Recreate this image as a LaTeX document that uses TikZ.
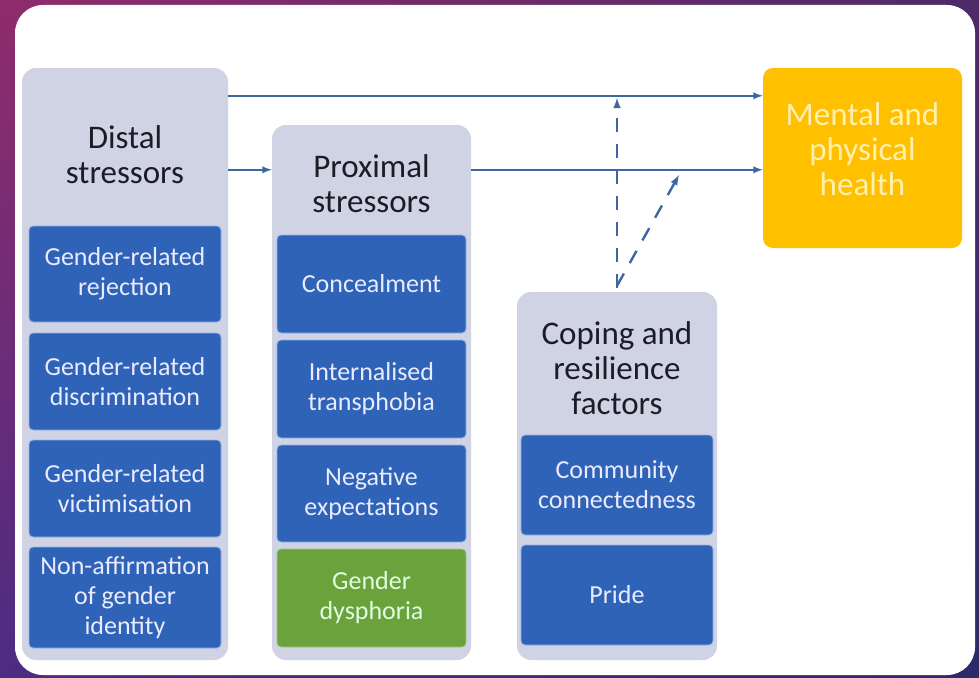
\documentclass[tikz,border=0pt]{standalone}
\usepackage{fontspec}
\setmainfont{Carlito}
\usetikzlibrary{positioning,shadings}

\definecolor{bgtl}{RGB}{143,44,108}
\definecolor{bgtr}{RGB}{78,42,104}
\definecolor{bgbl}{RGB}{76,44,130}
\definecolor{bgbr}{RGB}{44,42,108}
\definecolor{panel}{RGB}{207,211,228}
\definecolor{itemblue}{RGB}{46,99,184}
\definecolor{itemedge}{RGB}{150,182,232}
\definecolor{itemgreen}{RGB}{106,162,60}
\definecolor{healthyellow}{RGB}{255,192,0}
\definecolor{healthtext}{RGB}{255,240,175}
\definecolor{linkblue}{RGB}{62,103,160}
\definecolor{titletext}{RGB}{28,28,38}

\begin{document}
\begin{tikzpicture}[x=1pt,y=-1pt]
        \tikzstyle{group}=[fill=panel, rounded corners=14pt, inner sep=0pt]
        \tikzstyle{title}=[text=titletext, align=center, font=\fontsize{33}{35}\selectfont]
        \tikzstyle{item}=[fill=itemblue, draw=itemedge, line width=0.8pt, rounded corners=4pt,
            text=white!92!blue, align=center, font=\fontsize{26}{30}\selectfont]
        \tikzstyle{link}=[linkblue, line width=2.2pt, -latex]
        \tikzstyle{modlink}=[linkblue, line width=2.4pt, dash pattern=on 14pt off 12pt, -latex]

        \useasboundingbox (0,0) rectangle (979,677);
        \shade[upper left=bgtl, upper right=bgtr, lower left=bgbl, lower right=bgbr]
            (0,0) rectangle (979,677);
        \fill[white, rounded corners=28pt] (15,5) rectangle (975,675);

        % distal stressors
        \node[group, minimum width=206pt, minimum height=592pt] (distal) at (125,364) {};
        \node[title] (distaltitle) at (125,155) {Distal\\stressors};
        \node[item, minimum width=192pt, minimum height=96pt]  (rejection) at (125,274)   {Gender-related\\rejection};
        \node[item, minimum width=192pt, minimum height=97pt]  (discrim)   at (125,381.5) {Gender-related\\discrimination};
        \node[item, minimum width=192pt, minimum height=97pt]  (victim)    at (125,488.5) {Gender-related\\victimisation};
        \node[item, minimum width=192pt, minimum height=101pt] (nonaff)    at (125,597.5) {Non-affirmation\\of gender\\identity};

        % proximal stressors
        \node[group, minimum width=199pt, minimum height=535pt] (proximal) at (371.5,392.5) {};
        \node[title] (proximaltitle) at (371.5,184) {Proximal\\stressors};
        \node[item, minimum width=189pt, minimum height=98pt] (conceal)   at (371.5,284)   {Concealment};
        \node[item, minimum width=189pt, minimum height=98pt] (internal)  at (371.5,389)   {Internalised\\transphobia};
        \node[item, minimum width=189pt, minimum height=97pt] (negexp)    at (371.5,493.5) {Negative\\expectations};
        \node[item, fill=itemgreen, draw=itemgreen!60!white, text=white!88!green,
              minimum width=189pt, minimum height=98pt]       (dysphoria) at (371.5,598)   {Gender\\dysphoria};

        % coping and resilience
        \node[group, minimum width=200pt, minimum height=368pt] (coping) at (617,476) {};
        \node[title] (copingtitle) at (617,368) {Coping and\\resilience\\factors};
        \node[item, minimum width=192pt, minimum height=100pt] (community) at (617,485) {Community\\connectedness};
        \node[item, minimum width=192pt, minimum height=100pt] (pride)     at (617,595) {Pride};

        % outcome
        \node[fill=healthyellow, rounded corners=10pt, minimum width=199pt, minimum height=180pt,
              text=healthtext, align=center, font=\fontsize{33}{35}\selectfont,
              text depth=17pt] (health) at (862.5,158) {Mental and\\physical\\health};

        \draw[link] ([yshift=-28pt]distal.north east) -- ([yshift=-28pt]health.north west);
        \draw[link] ([yshift=-102pt]distal.north east) -- ([yshift=-45pt]proximal.north west);
        \draw[link] ([yshift=-45pt]proximal.north east) -- ([yshift=-102pt]health.north west);

        \coordinate (topline) at (617,98);
        \coordinate (midline) at (679,175);
        \draw[modlink] ([yshift=4pt]coping.north) -- (topline);
        \draw[modlink] ([yshift=6pt]coping.north) -- (midline);
\end{tikzpicture}
\end{document}
